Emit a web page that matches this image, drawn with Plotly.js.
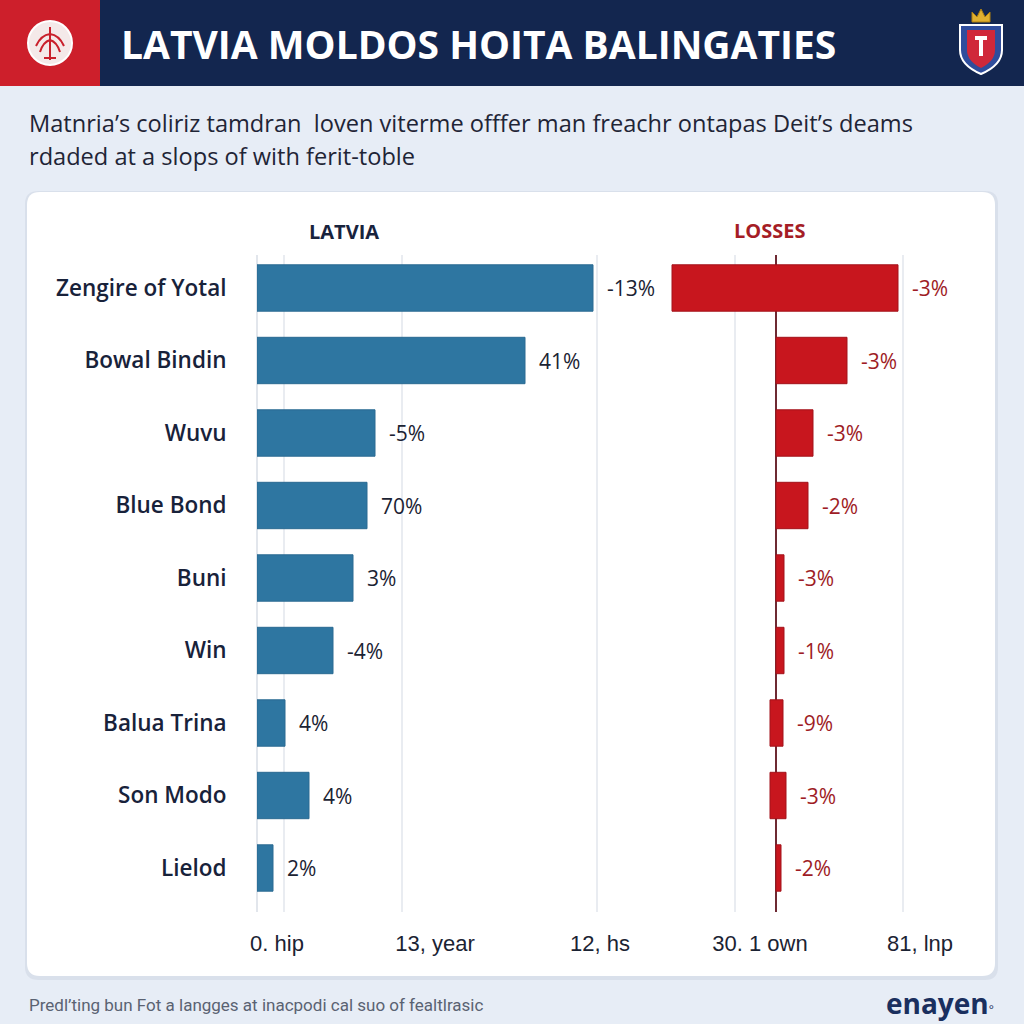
<!DOCTYPE html>
<html>
<head>
<meta charset="utf-8">
<script src="https://cdn.plot.ly/plotly-3.0.1.min.js"></script>
<style>html,body{margin:0;padding:0;background:#e7edf6;}#chart{width:1024px;height:1024px;}</style>
</head>
<body>
<div id="chart"></div>
<script>
// ---- data ----
const categories = ['Zengire of Yotal','Bowal Bindin','Wuvu','Blue Bond','Buni','Win','Balua Trina','Son Modo','Lielod'];
const latviaValues = [84, 67, 29.5, 27.5, 24, 19, 7, 13, 4];
const latviaLabels = ['-13%','41%','-5%','70%','3%','-4%','4%','4%','2%'];
const lossStart = [-26, 0, 0, 0, 0, 0, -1.5, -1.5, 0];
const lossEnd = [30.5, 17.75, 9.25, 8, 2, 2, 1.75, 2.5, 1.25];
const lossLabels = ['-3%','-3%','-3%','-2%','-3%','-1%','-9%','-3%','-2%'];
const leftTickVals = [5, 44.5, 85.75];
const leftTickText = ['0. hip','13, year','12, hs'];
const leftGridVals = [6.75, 36.25, 85];
const rightTickVals = [-4, 36];
const rightTickText = ['30. 1 own','81, lnp'];
const rightGridVals = [-10.25, 31.75];
const titleText = 'LATVIA MOLDOS HOITA BALINGATIES';
const subtitleLines = ['Matnria\u2019s coliriz tamdran  loven viterme offfer man freachr ontapas Deit\u2019s deams','rdaded at a slops of with ferit-toble'];
const footerText = 'Predl\u2019ting bun Fot a langges at inacpodi cal suo of fealtlrasic';

// ---- helpers ----
const W = 1024, H = 1024;
const fx = v => v / W, fy = v => 1 - v / H;
function pp(s){ let i = 0; return s.replace(/-?\d+(\.\d+)?/g, m => { const v = parseFloat(m); const r = (i % 2 === 0) ? v / W : 1 - v / H; i++; return r.toFixed(5); }); }

const NAVY = '#13264f', RED = '#c8161e', BLUE = '#2e76a1', TXT = '#1b2333', DRED = '#9e1c25';

const traces = [
  { type: 'bar', orientation: 'h', x: latviaValues, y: categories, xaxis: 'x', yaxis: 'y',
    marker: { color: BLUE, line: { color: '#2a6a92', width: 1 } }, width: 0.64, hoverinfo: 'skip', showlegend: false },
  { type: 'bar', orientation: 'h', x: lossEnd.map((e, i) => e - lossStart[i]), base: lossStart, y: categories, xaxis: 'x2', yaxis: 'y2',
    marker: { color: RED, line: { color: '#a3121a', width: 1 } }, width: 0.64, hoverinfo: 'skip', showlegend: false }
];

const annotations = [];
latviaValues.forEach((v, i) => annotations.push({ xref: 'x', yref: 'y', x: v, y: categories[i], xanchor: 'left', xshift: 12,
  text: latviaLabels[i], showarrow: false, font: { family: 'Open Sans', size: 21, color: TXT } }));
lossEnd.forEach((v, i) => annotations.push({ xref: 'x2', yref: 'y2', x: v, y: categories[i], xanchor: 'left', xshift: 12,
  text: lossLabels[i], showarrow: false, font: { family: 'Open Sans', size: 21, color: DRED } }));
// title etc
annotations.push({ xref: 'paper', yref: 'paper', x: fx(119), y: fy(43), xanchor: 'left', yanchor: 'middle', showarrow: false,
  text: '<b>' + titleText + '</b>', font: { family: 'Open Sans', size: 39, color: '#ffffff' } });
subtitleLines.forEach((t, i) => annotations.push({ xref: 'paper', yref: 'paper', x: fx(27), y: fy(123 + i * 33), xanchor: 'left', yanchor: 'middle', showarrow: false,
  text: t, font: { family: 'Open Sans', size: 23.6, color: '#1f2536' } }));
annotations.push({ xref: 'paper', yref: 'paper', x: fx(344), y: fy(231), xanchor: 'center', yanchor: 'middle', showarrow: false,
  text: '<b>LATVIA</b>', font: { family: 'Open Sans', size: 20, color: '#18233d' } });
annotations.push({ xref: 'paper', yref: 'paper', x: fx(769), y: fy(230), xanchor: 'center', yanchor: 'middle', showarrow: false,
  text: '<b>LOSSES</b>', font: { family: 'Open Sans', size: 20, color: '#a51d26' } });
annotations.push({ xref: 'paper', yref: 'paper', x: fx(27), y: fy(1005), xanchor: 'left', yanchor: 'middle', showarrow: false,
  text: footerText, font: { family: 'Roboto', size: 17, color: '#5a6272' } });
annotations.push({ xref: 'paper', yref: 'paper', x: fx(996), y: fy(1003), xanchor: 'right', yanchor: 'middle', showarrow: false,
  text: '<b>enayen</b><span style="font-size:12px">°</span>', font: { family: 'Open Sans', size: 28, color: '#1a2f5e' } });

const shapes = [
  // header
  { type: 'rect', xref: 'paper', yref: 'paper', x0: fx(0), x1: fx(100), y0: fy(0), y1: fy(86), fillcolor: '#cd1f2b', line: { width: 0 }, layer: 'below' },
  { type: 'rect', xref: 'paper', yref: 'paper', x0: fx(100), x1: fx(1024), y0: fy(0), y1: fy(86), fillcolor: NAVY, line: { width: 0 }, layer: 'below' },
  // card shadow + card
  { type: 'path', xref: 'paper', yref: 'paper', layer: 'below', line: { width: 0 }, fillcolor: 'rgba(40,60,100,0.07)',
    path: pp('M 39 191 L 985 191 Q 998 191 998 204 L 998 967 Q 998 980 985 980 L 39 980 Q 25 980 25 967 L 25 204 Q 25 191 39 191 Z') },
  { type: 'path', xref: 'paper', yref: 'paper', layer: 'below', line: { width: 0 }, fillcolor: '#ffffff',
    path: pp('M 40 192 L 982 192 Q 995 192 995 205 L 995 963 Q 995 976 982 976 L 40 976 Q 27 976 27 963 L 27 205 Q 27 192 40 192 Z') },
  // left logo
  { type: 'circle', xref: 'paper', yref: 'paper', x0: fx(28), x1: fx(72), y0: fy(21), y1: fy(65), fillcolor: '#f4e9e9', line: { color: '#ffffff', width: 2 } },
  { type: 'path', xref: 'paper', yref: 'paper', line: { color: '#c9202c', width: 2 },
    path: pp('M 50 27 L 50 60 M 50 34 Q 41 35 36 46 M 50 34 Q 59 35 64 46 M 50 40 Q 43 42 40 52 M 50 40 Q 57 42 60 52 M 44 58 L 56 58') },
  // right crest
  { type: 'path', xref: 'paper', yref: 'paper', fillcolor: '#e0b030', line: { color: '#b08010', width: 1 },
    path: pp('M 972 22 L 972 12 L 977 17 L 981 9 L 985 17 L 990 12 L 990 22 Z') },
  { type: 'path', xref: 'paper', yref: 'paper', fillcolor: '#2f4d9c', line: { color: '#ffffff', width: 2 },
    path: pp('M 960 25 L 1002 25 L 1002 50 Q 1002 65 981 74 Q 960 65 960 50 Z') },
  { type: 'path', xref: 'paper', yref: 'paper', fillcolor: '#d0283a', line: { width: 0 },
    path: pp('M 967 30 L 995 30 L 995 50 Q 995 61 981 68 Q 967 61 967 50 Z') },
  { type: 'path', xref: 'paper', yref: 'paper', fillcolor: '#ffffff', line: { width: 0 },
    path: pp('M 975 36 L 987 36 L 987 40 L 983 40 L 983 56 L 979 56 L 979 40 L 975 40 Z') }
];

const yDomain = [fy(912), fy(255)];
const yRange = [8 + (912 - 868) / 72.5, -(288 - 255) / 72.5];

const layout = {
  width: 1024, height: 1024,
  margin: { l: 0, r: 0, t: 0, b: 0 },
  paper_bgcolor: '#e7edf6', plot_bgcolor: 'rgba(0,0,0,0)',
  showlegend: false, bargap: 0.36,
  xaxis: { domain: [fx(257), fx(657)], range: [0, 100], anchor: 'y',
    tickvals: leftTickVals, ticktext: leftTickText, showgrid: false,
    ticks: 'outside', ticklen: 12, tickcolor: 'rgba(0,0,0,0)',
    tickfont: { family: 'Liberation Sans', size: 22, color: TXT },
    minor: { tickvals: leftGridVals, showgrid: true, gridcolor: '#e9ecf1', gridwidth: 2, ticks: '' },
    zeroline: true, zerolinecolor: '#e2e6ec', zerolinewidth: 2, showline: false, fixedrange: true },
  yaxis: { domain: yDomain, type: 'category', range: yRange, anchor: 'x',
    ticks: 'outside', ticklen: 25, tickcolor: 'rgba(0,0,0,0)', showgrid: false, zeroline: false,
    tickfont: { family: 'Open Sans', size: 22.5, color: '#18223a', weight: 600 }, fixedrange: true },
  xaxis2: { domain: [fx(660), fx(980)], range: [-29, 51], anchor: 'y2',
    tickvals: rightTickVals, ticktext: rightTickText, showgrid: false,
    ticks: 'outside', ticklen: 12, tickcolor: 'rgba(0,0,0,0)',
    tickfont: { family: 'Liberation Sans', size: 22, color: TXT },
    minor: { tickvals: rightGridVals, showgrid: true, gridcolor: '#e9ecf1', gridwidth: 2, ticks: '' },
    zeroline: true, zerolinecolor: '#6e2a33', zerolinewidth: 1.5, showline: false, fixedrange: true },
  yaxis2: { domain: yDomain, type: 'category', range: yRange, anchor: 'x2', matches: 'y',
    showticklabels: false, showgrid: false, zeroline: false, ticks: '', fixedrange: true },
  annotations: annotations,
  shapes: shapes
};

Plotly.newPlot('chart', traces, layout, { displayModeBar: false, staticPlot: true });
</script>
</body>
</html>
